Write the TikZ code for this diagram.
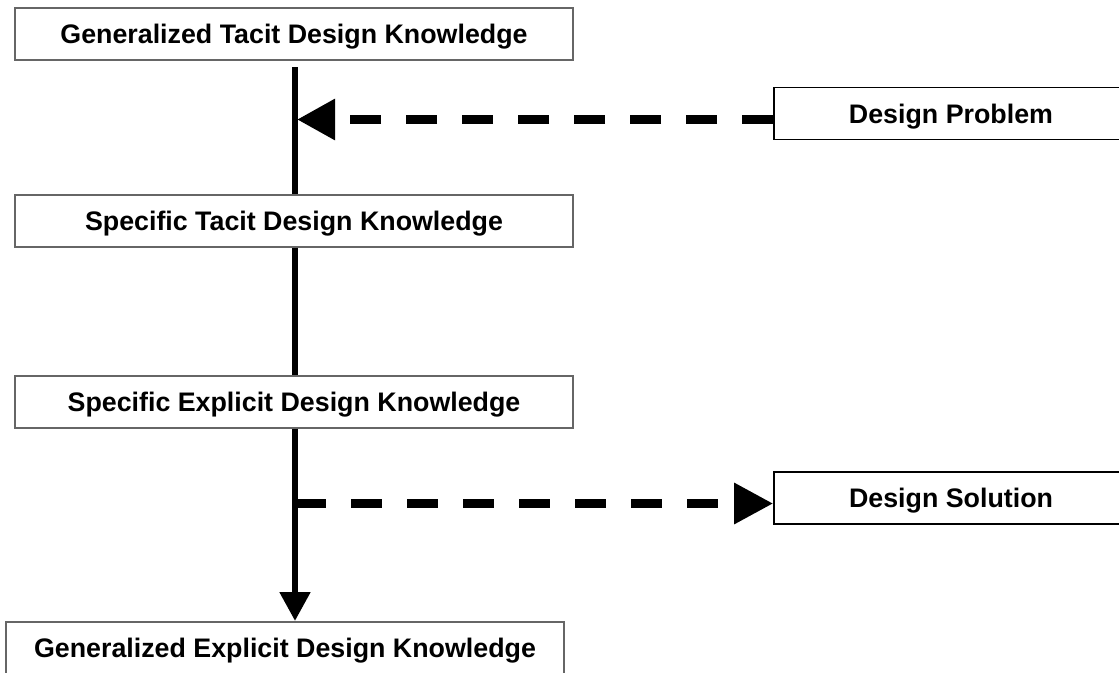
\documentclass[tikz,border=0pt]{standalone}
\usepackage{fontspec}
\setmainfont{Liberation Sans}
\usetikzlibrary{arrows.meta}
\begin{document}
\begin{tikzpicture}[x=1pt,y=-1pt,
  boxtext/.style={inner sep=0pt,minimum height=52pt,text height=19pt,text depth=-1pt,font=\fontsize{26.8}{30}\selectfont\bfseries},
  mainbox/.style={boxtext,draw=black!60,line width=2pt,fill=white,minimum width=558pt},
  sidebox/.style={boxtext,draw=black,line width=1.6pt,fill=white,minimum width=354pt},
  flow/.style={line width=6.5pt},
  dashflow/.style={line width=9pt,dash pattern=on 31pt off 25pt}]
\useasboundingbox (0,0) rectangle (1119,672);
\fill[white] (0,0) rectangle (1119,672);
\node[mainbox] (gtk) at (294,34) {Generalized Tacit Design Knowledge};
\node[mainbox] (stk) at (294,220.5) {Specific Tacit Design Knowledge};
\node[mainbox] (sek) at (294,401.5) {Specific Explicit Design Knowledge};
\node[mainbox] (gek) at (285,648) {Generalized Explicit Design Knowledge};
\node[sidebox] (dp) at (951,113.5) {Design Problem};
\node[sidebox] (ds) at (951,498) {Design Solution};
\coordinate (top) at (295,67);
\coordinate (pj) at (297,119.5);
\coordinate (sj) at (295,503.5);
\draw[flow] (top) -- (295,0 |- stk.north);
\draw[flow] (295,0 |- stk.south) -- (295,0 |- sek.north);
\draw[flow,-{Triangle[length=29pt,width=29.5pt]}] (295,0 |- sek.south) -- (295,0 |- gek.north);
\draw[dashflow,-{Triangle[length=38pt,width=39pt]}] (dp.west |- pj) -- (pj);
\draw[dashflow,-{Triangle[length=39pt,width=39pt]}] (sj) -- (ds.west |- sj);
\end{tikzpicture}
\end{document}
